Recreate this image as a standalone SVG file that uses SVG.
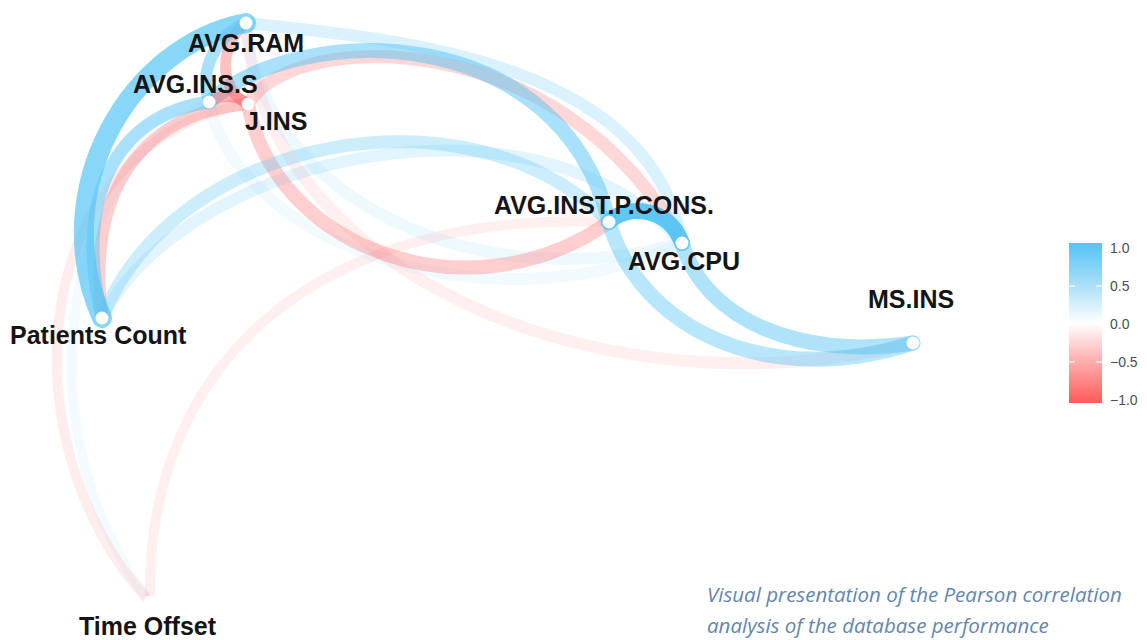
<svg xmlns="http://www.w3.org/2000/svg" width="1147" height="640" viewBox="0 0 1147 640">
  <style>
    .edge { fill: none; stroke-linecap: round; }
    .pos { stroke: #55C4F5; }
    .neg { stroke: #FF6161; }
    .node circle { fill: #ffffff; }
    .label { font-family: "Liberation Sans", Arial, Helvetica, sans-serif; font-weight: bold; font-size: 25px; fill: #141414; }
    .tick-label { font-family: "Liberation Sans", Arial, Helvetica, sans-serif; font-size: 14px; fill: #4d4d4d; }
    .tick { stroke: #ffffff; stroke-width: 1.2; }
    .caption { font-family: "Open Sans", "Noto Sans", sans-serif; font-style: italic; font-size: 20.5px; fill: #6286AE; }
  </style>
  <defs>
    <linearGradient id="corrScale" x1="0" y1="0" x2="0" y2="1">
      <stop offset="0" stop-color="#55C4F5"/>
      <stop offset="0.25" stop-color="#A6DDF8"/>
      <stop offset="0.5" stop-color="#FFFFFF"/>
      <stop offset="0.75" stop-color="#FFAAAA"/>
      <stop offset="1" stop-color="#FF5A5A"/>
    </linearGradient>
  </defs>

  <rect width="1147" height="640" fill="#ffffff"/>

  <!-- correlation paths: colour = sign, opacity and width = strength -->
  <g id="connectors">
    <path id="e-inss-to" class="edge pos" stroke-width="10" stroke-opacity="0.07" d="M209,102 C60,170 20,430 150,602"/>
    <path id="e-jins-to" class="edge neg" stroke-width="10" stroke-opacity="0.12" d="M248,104 C30,140 0,440 150,602"/>
    <path id="e-to-apc" class="edge neg" stroke-width="10" stroke-opacity="0.1" d="M150,602 C145,360 320,210 609,222"/>
    <path id="e-ram-ms" class="edge neg" stroke-width="12" stroke-opacity="0.1" d="M246,23 C260,270 600,420 913,343"/>
    <path id="e-ram-apc" class="edge pos" stroke-width="12" stroke-opacity="0.1" d="M246,23 C260,200 480,300 682,243"/>
    <path id="e-inss-cpu" class="edge pos" stroke-width="12" stroke-opacity="0.08" d="M209,102 C240,250 500,330 682,243"/>
    <path id="e-pc-cpu" class="edge pos" stroke-width="12" stroke-opacity="0.17" d="M102,318 C190,150 540,80 682,243"/>
    <path id="e-ram-cpu" class="edge pos" stroke-width="12" stroke-opacity="0.22" d="M246,23 C380,38 650,55 682,243"/>
    <path id="e-jins-cpu" class="edge neg" stroke-width="13" stroke-opacity="0.25" d="M248,104 C290,30 560,20 682,243"/>
    <path id="e-jins-apc" class="edge neg" stroke-width="14" stroke-opacity="0.3" d="M248,104 C275,250 470,320 609,222"/>
    <path id="e-pc-apc" class="edge pos" stroke-width="13" stroke-opacity="0.3" d="M102,318 C175,135 470,80 609,222"/>
    <path id="e-jins-pc" class="edge neg" stroke-width="12" stroke-opacity="0.3" d="M248,104 C155,112 85,175 102,318"/>
    <path id="e-inss-apc" class="edge pos" stroke-width="15" stroke-opacity="0.5" d="M209,102 C300,20 560,20 609,222"/>
    <path id="e-apc-ms" class="edge pos" stroke-width="15" stroke-opacity="0.42" d="M609,222 C640,330 770,390 913,343"/>
    <path id="e-cpu-ms" class="edge pos" stroke-width="15" stroke-opacity="0.48" d="M682,243 C705,320 800,360 913,343"/>
    <path id="e-ram-jins" class="edge neg" stroke-width="11" stroke-opacity="0.4" d="M246,23 C222,40 215,88 248,104"/>
    <path id="e-inss-jins" class="edge neg" stroke-width="11" stroke-opacity="0.5" d="M209,102 C220,94 237,95 248,104"/>
    <path id="e-ram-inss" class="edge pos" stroke-width="12" stroke-opacity="0.5" d="M246,23 C218,35 198,68 209,102"/>
    <path id="e-inss-pc" class="edge pos" stroke-width="13" stroke-opacity="0.5" d="M209,102 C130,112 70,180 102,318"/>
    <path id="e-ram-pc" class="edge pos" stroke-width="20" stroke-opacity="0.7" d="M246,23 C130,45 45,190 102,318"/>
    <path id="e-apc-cpu" class="edge pos" stroke-width="16" stroke-opacity="0.95" d="M609,222 C625,205 668,205 682,243"/>
  </g>

  <!-- variables -->
  <g id="node-avg-ram" class="node">
    <circle cx="246" cy="23" r="6.5"/>
    <text class="label" x="188" y="52">AVG.RAM</text>
  </g>
  <g id="node-avg-ins-s" class="node">
    <circle cx="209" cy="102" r="6.5"/>
    <text class="label" x="133" y="93">AVG.INS.S</text>
  </g>
  <g id="node-j-ins" class="node">
    <circle cx="248" cy="104" r="6.5"/>
    <text class="label" x="245" y="130">J.INS</text>
  </g>
  <g id="node-avg-inst-p-cons" class="node">
    <circle cx="609" cy="222" r="6.5"/>
    <text class="label" x="494" y="214">AVG.INST.P.CONS.</text>
  </g>
  <g id="node-avg-cpu" class="node">
    <circle cx="682" cy="243" r="6.5"/>
    <text class="label" x="628" y="270">AVG.CPU</text>
  </g>
  <g id="node-ms-ins" class="node">
    <circle cx="913" cy="343" r="6.5"/>
    <text class="label" x="868" y="308">MS.INS</text>
  </g>
  <g id="node-patients-count" class="node">
    <circle cx="102" cy="318" r="6.5"/>
    <text class="label" x="10" y="344">Patients Count</text>
  </g>
  <g id="node-time-offset" class="node">
    <circle cx="150" cy="602" r="6.5"/>
    <text class="label" x="79" y="635">Time Offset</text>
  </g>

  <!-- colour scale -->
  <g id="legend">
    <rect x="1069" y="243" width="33" height="160" fill="url(#corrScale)"/>
    <line class="tick" x1="1069" y1="286" x2="1075" y2="286"/>
    <line class="tick" x1="1096" y1="286" x2="1102" y2="286"/>
    <line class="tick" x1="1069" y1="324" x2="1075" y2="324"/>
    <line class="tick" x1="1096" y1="324" x2="1102" y2="324"/>
    <line class="tick" x1="1069" y1="362" x2="1075" y2="362"/>
    <line class="tick" x1="1096" y1="362" x2="1102" y2="362"/>
    <text class="tick-label" x="1110" y="253">1.0</text>
    <text class="tick-label" x="1110" y="291">0.5</text>
    <text class="tick-label" x="1110" y="329">0.0</text>
    <text class="tick-label" x="1110" y="367">−0.5</text>
    <text class="tick-label" x="1110" y="405">−1.0</text>
  </g>

  <g id="caption">
    <text class="caption" x="707" y="602">Visual presentation of the Pearson correlation</text>
    <text class="caption" x="707" y="633">analysis of the database performance</text>
  </g>
</svg>
